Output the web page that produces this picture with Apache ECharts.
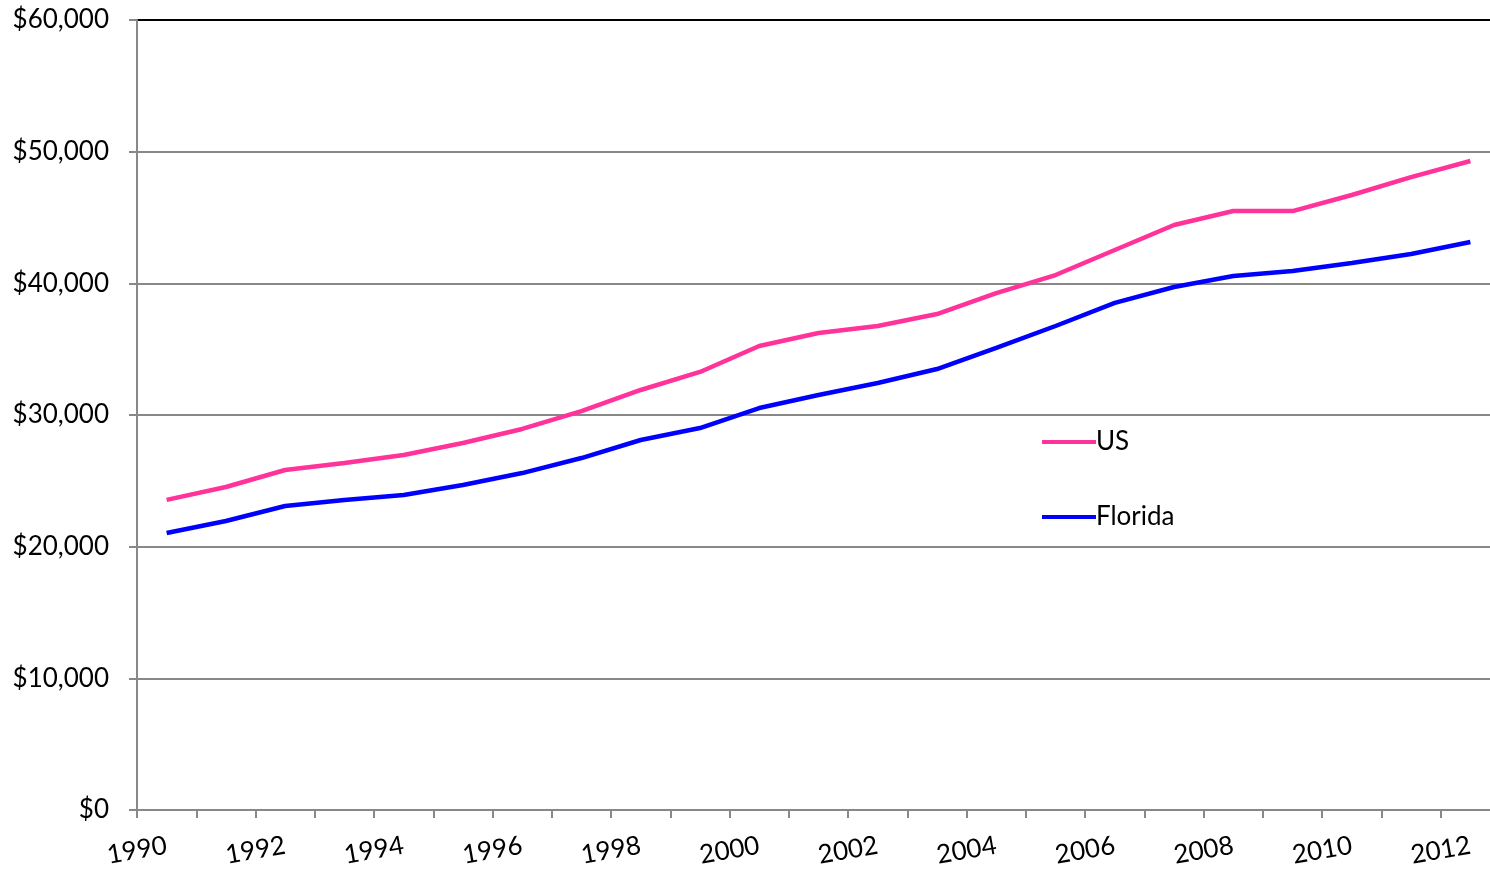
<!DOCTYPE html>
<html>
<head>
<meta charset="utf-8">
<script src="https://cdn.jsdelivr.net/npm/echarts@6/dist/echarts.min.js"></script>
<style>
  html, body { margin: 0; padding: 0; background: #fff; }
  #chart { width: 1490px; height: 871px; }
</style>
</head>
<body>
<div id="chart"></div>
<script>
var years = ['1990', '1991', '1992', '1993', '1994', '1995', '1996', '1997', '1998', '1999', '2000',
  '2001', '2002', '2003', '2004', '2005', '2006', '2007', '2008', '2009', '2010', '2011', '2012'];

var usIncome = [23550, 24530, 25820, 26350, 26960, 27870, 28940, 30300, 31900, 33270, 35240,
  36230, 36760, 37670, 39260, 40630, 42530, 44430, 45490, 45490, 46710, 48070, 49290];

var floridaIncome = [21040, 21950, 23090, 23540, 23920, 24680, 25590, 26730, 28100, 29010, 30530,
  31520, 32430, 33490, 35090, 36760, 38510, 39720, 40560, 40940, 41540, 42230, 43140];

var fontName = 'Lato';

var chart = echarts.init(document.getElementById('chart'), null, { renderer: 'canvas' });

var option = {
  animation: false,
  // plot area runs slightly past the right edge of the canvas, as in the original
  grid: { left: 137, width: 1363, top: 20, bottom: 61, containLabel: false, outerBoundsMode: 'none' },
  legend: {
    orient: 'vertical',
    left: 1037,
    top: 424,
    itemWidth: 54,
    itemHeight: 4,
    itemGap: 49,
    icon: 'rect',
    textStyle: { fontFamily: fontName, fontSize: 26, color: '#000', padding: [0, 0, 0, -5] },
    data: ['US', 'Florida']
  },
  xAxis: {
    type: 'category',
    data: years,
    boundaryGap: true,
    axisLine: { lineStyle: { color: '#888', width: 2 } },
    axisTick: { show: true, interval: 0, length: 8, lineStyle: { color: '#888', width: 2 } },
    axisLabel: {
      interval: 1,
      rotate: 10,
      margin: 35,
      fontFamily: fontName,
      fontSize: 26,
      color: '#000'
    },
    splitLine: { show: false }
  },
  yAxis: {
    type: 'value',
    min: 0,
    max: 60000,
    interval: 10000,
    axisLine: { show: true, lineStyle: { color: '#888', width: 2 } },
    axisTick: { show: true, length: 8, lineStyle: { color: '#888', width: 2 } },
    axisLabel: {
      margin: 28,
      fontFamily: fontName,
      fontSize: 26,
      color: '#000',
      formatter: function (v) { return '$' + v.toLocaleString('en-US'); }
    },
    splitLine: {
      show: true,
      lineStyle: { color: ['#888', '#888', '#888', '#888', '#888', '#888', '#000'], width: 2 }
    }
  },
  series: [
    {
      name: 'US',
      type: 'line',
      data: usIncome,
      symbol: 'none',
      lineStyle: { color: '#FF3399', width: 4.5 },
      itemStyle: { color: '#FF3399' }
    },
    {
      name: 'Florida',
      type: 'line',
      data: floridaIncome,
      symbol: 'none',
      lineStyle: { color: '#0000FF', width: 4.5 },
      itemStyle: { color: '#0000FF' }
    }
  ]
};

chart.setOption(option);
window.addEventListener('resize', chart.resize);
</script>
</body>
</html>
